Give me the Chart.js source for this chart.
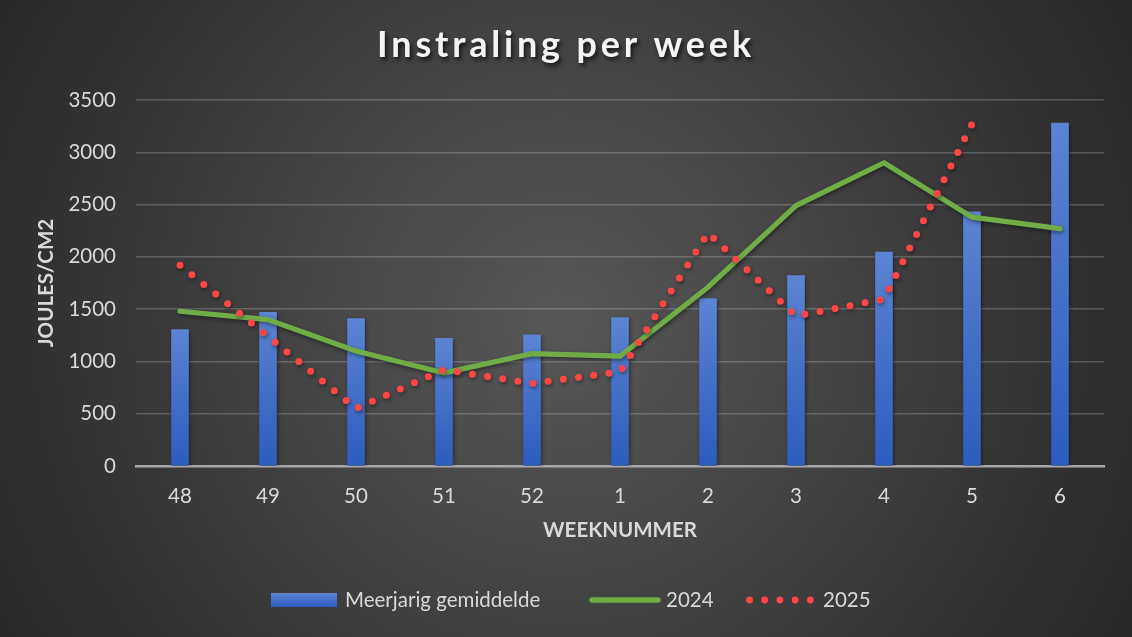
<!DOCTYPE html>
<html><head><meta charset="utf-8">
<script src="https://cdn.jsdelivr.net/npm/chart.js@4/dist/chart.umd.min.js"></script>
<style>html,body{margin:0;padding:0;background:#333;overflow:hidden}#wrap{width:1132px;height:637px}</style>
</head><body><div id="wrap"><canvas id="c" width="1132" height="637"></canvas></div>
<script>
const weeks = ['48','49','50','51','52','1','2','3','4','5','6'];
const meerjarig = [1305,1470,1410,1220,1255,1420,1600,1820,2045,2430,3280];
const y2024 = [1480,1400,1100,890,1075,1050,1710,2490,2900,2380,2270];
const y2025 = [1920,1240,550,920,790,900,2230,1435,1595,3270,null];
const seriesLabels = ['Meerjarig gemiddelde','2024','2025'];
const chartTitle = 'Instraling per week';
const yTitle = 'JOULES/CM2';
const xTitle = 'WEEKNUMMER';

const FONT = 'Lato';
const BLUE_TOP = '#5c84d3', BLUE_BOT = '#2c5cbd';
const GREEN = '#70ad47', RED = '#ff4646';

const bgPlugin = {
  id:'bg',
  beforeDraw(chart){
    const {ctx,width,height} = chart;
    ctx.save();
    const g = ctx.createRadialGradient(560,320,0,560,320,720);
    g.addColorStop(0,'#585858');
    g.addColorStop(1,'#222222');
    ctx.fillStyle = g;
    ctx.fillRect(0,0,width,height);
    ctx.restore();
  }
};
const shadowPlugin = {
  id:'shadow',
  beforeDatasetDraw(chart,args){
    const ctx = chart.ctx; ctx.save();
    ctx.shadowColor = 'rgba(0,0,0,0.45)';
    ctx.shadowBlur = 4; ctx.shadowOffsetX = 1; ctx.shadowOffsetY = 2;
  },
  afterDatasetDraw(chart){ chart.ctx.restore(); }
};
const titleLegendPlugin = {
  id:'titleLegend',
  afterDraw(chart){
    const ctx = chart.ctx;
    ctx.save();
    ctx.font = 'bold 36px ' + FONT;
    if ('letterSpacing' in ctx) ctx.letterSpacing = '3.8px';
    ctx.textAlign = 'center'; ctx.textBaseline = 'alphabetic';
    ctx.shadowColor = 'rgba(0,0,0,0.7)'; ctx.shadowBlur = 4; ctx.shadowOffsetX = 2; ctx.shadowOffsetY = 3;
    ctx.fillStyle = '#f4f4f4';
    ctx.fillText(chartTitle, 566, 57);
    ctx.restore();
    ctx.save();
    const ds = chart.data.datasets;
    const ly = 600;
    ctx.font = '20.5px ' + FONT;
    ctx.textBaseline = 'middle'; ctx.textAlign = 'left';
    const g = ctx.createLinearGradient(0,593,0,607);
    g.addColorStop(0,BLUE_TOP); g.addColorStop(1,BLUE_BOT);
    ctx.fillStyle = g; ctx.fillRect(271,593,66,14);
    ctx.fillStyle = '#d9d9d9';
    ctx.fillText(ds[0].label, 345, ly);
    ctx.strokeStyle = GREEN; ctx.lineWidth = 5.5; ctx.lineCap = 'round';
    ctx.beginPath(); ctx.moveTo(592,ly); ctx.lineTo(658,ly); ctx.stroke();
    ctx.fillText(ds[1].label, 666, ly);
    ctx.fillStyle = RED;
    for (let i=0;i<5;i++){ ctx.beginPath(); ctx.arc(749.5+i*15.2,ly,3.4,0,Math.PI*2); ctx.fill(); }
    ctx.fillStyle = '#d9d9d9';
    ctx.fillText(ds[2].label, 823, ly);
    ctx.restore();
  }
};

function barGrad(c){
  const chart = c.chart;
  if (!chart.chartArea || c.raw == null) return BLUE_BOT;
  const ys = chart.scales.y;
  const top = ys.getPixelForValue(c.raw), bot = ys.getPixelForValue(0);
  const g = chart.ctx.createLinearGradient(0,top,0,bot);
  g.addColorStop(0,BLUE_TOP); g.addColorStop(1,BLUE_BOT);
  return g;
}

new Chart(document.getElementById('c'), {
  type:'bar',
  data:{
    labels: weeks,
    datasets:[
      {type:'bar', label:seriesLabels[0], data:meerjarig, backgroundColor:barGrad, barThickness:17, order:3},
      {type:'line', label:seriesLabels[1], data:y2024, borderColor:GREEN, borderWidth:5.2, pointRadius:0, tension:0, borderJoinStyle:'round', borderCapStyle:'round', order:2},
      {type:'line', label:seriesLabels[2], data:y2025, borderColor:RED, borderWidth:7, borderDash:[0,15.3], borderCapStyle:'round', pointRadius:0, tension:0, spanGaps:false, order:1}
    ]
  },
  options:{
    responsive:false, animation:false, devicePixelRatio:1,
    layout:{padding:{top:100,bottom:94,left:0,right:28}},
    plugins:{legend:{display:false}, title:{display:false}, tooltip:{enabled:false}},
    scales:{
      x:{
        grid:{display:false, drawTicks:false},
        border:{display:true, color:'#a8a8a8', width:2.5},
        ticks:{color:'#d9d9d9', font:{family:FONT, size:20.5}, padding:18, maxRotation:0},
        title:{display:true, text:xTitle, color:'#d9d9d9', font:{family:FONT, size:20.5, weight:'bold'}, padding:{top:0,bottom:0}},
        afterFit(s){ s.height = 77; }
      },
      y:{
        min:0, max:3500,
        ticks:{stepSize:500, color:'#d9d9d9', font:{family:FONT, size:20.5}, padding:20, callback:(v)=>String(v)},
        grid:{color:'rgba(255,255,255,0.2)', lineWidth:1.5, drawTicks:false},
        border:{display:false},
        title:{display:true, text:yTitle, color:'#d9d9d9', font:{family:FONT, size:20.5, weight:'bold'}, padding:{top:34,bottom:0}},
        afterFit(s){ s.width = 136; }
      }
    }
  },
  plugins:[bgPlugin, shadowPlugin, titleLegendPlugin]
});
</script>
</body></html>
